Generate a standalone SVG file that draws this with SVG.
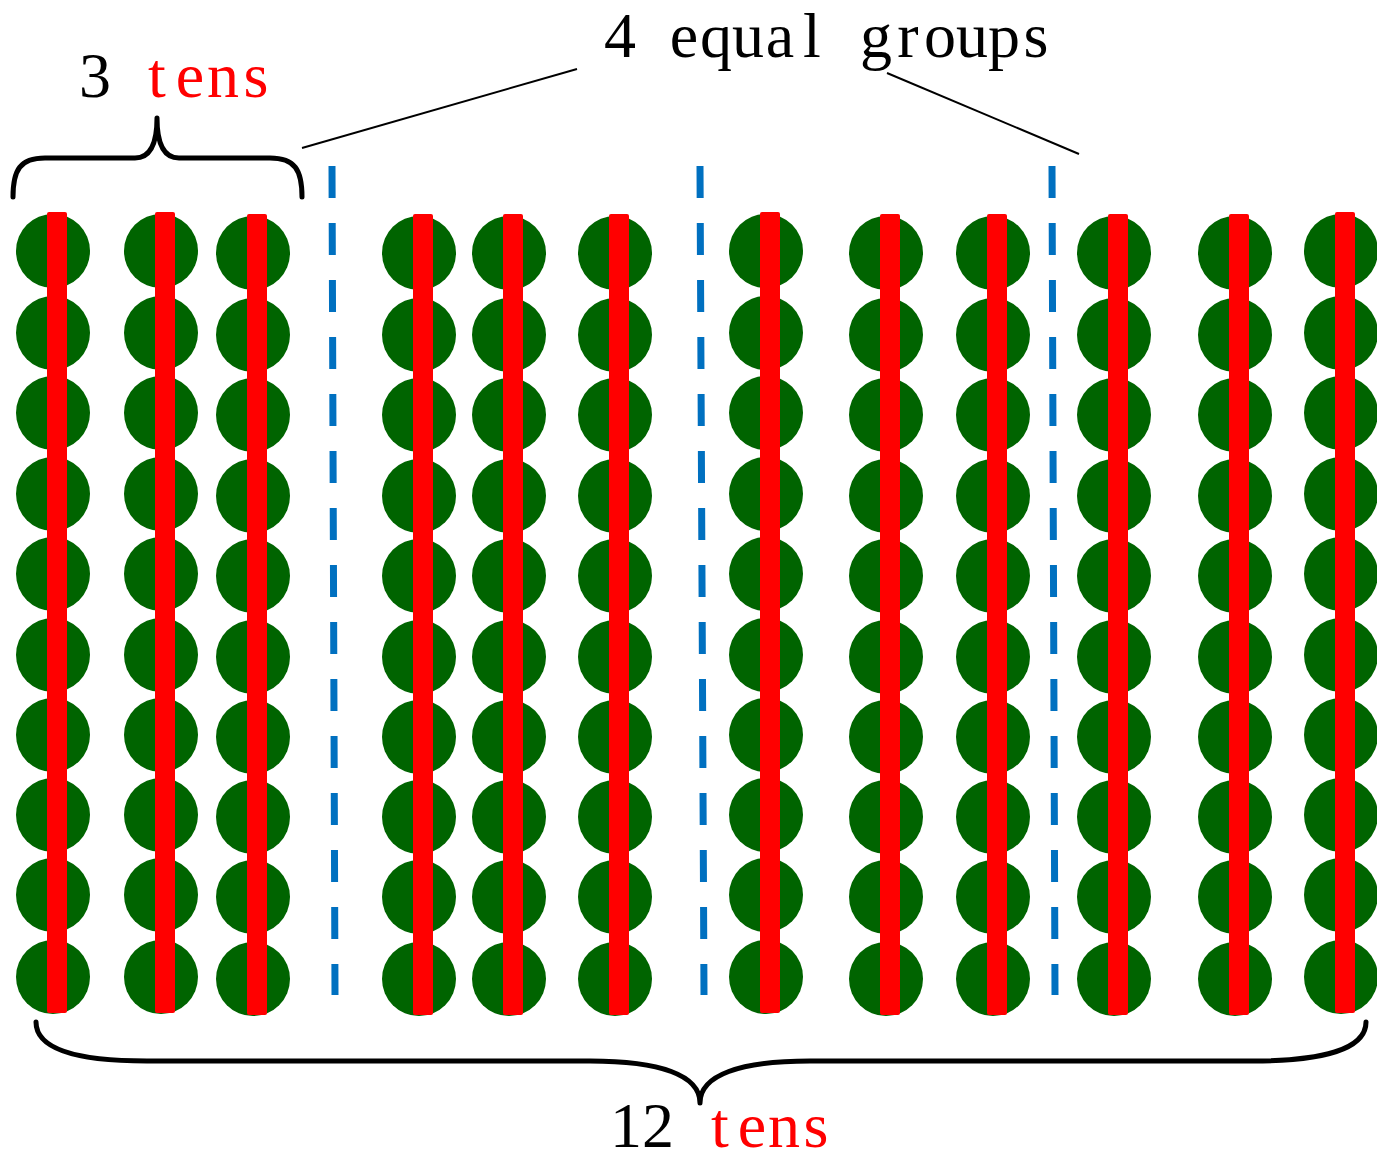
<svg xmlns="http://www.w3.org/2000/svg" xmlns:xlink="http://www.w3.org/1999/xlink" width="1377" height="1161" viewBox="0 0 1377 1161">
<style>
.lbl{font-family:"Liberation Serif","Times New Roman",serif;font-size:64px;fill:#000;text-anchor:middle}
.red{fill:#FF0000}
.dot{fill:#006400}
.bar{fill:#FF0000}
.brace{fill:none;stroke:#000;stroke-width:5;stroke-linecap:round;stroke-linejoin:round}
.lead{fill:none;stroke:#000;stroke-width:2}
.div{fill:none;stroke:#0070C0;stroke-width:7;stroke-dasharray:32 25}
</style>
<defs>
<g id="rod">
<circle class="dot" cx="-4" cy="251" r="37"/>
<circle class="dot" cx="-4" cy="333" r="37"/>
<circle class="dot" cx="-4" cy="413" r="37"/>
<circle class="dot" cx="-4" cy="494" r="37"/>
<circle class="dot" cx="-4" cy="574" r="37"/>
<circle class="dot" cx="-4" cy="655" r="37"/>
<circle class="dot" cx="-4" cy="735" r="37"/>
<circle class="dot" cx="-4" cy="815" r="37"/>
<circle class="dot" cx="-4" cy="895" r="37"/>
<circle class="dot" cx="-4" cy="977" r="37"/>
<rect class="bar" x="-10" y="212" width="20" height="801" rx="2"/>
</g>
</defs>
<rect width="1377" height="1161" fill="#fff"/>
<g id="connectors">
<line class="div" x1="332" y1="166" x2="335" y2="995"/>
<line class="div" x1="700" y1="166" x2="704" y2="995"/>
<line class="div" x1="1052" y1="166" x2="1055" y2="995"/>
<line class="lead" x1="302" y1="148" x2="577" y2="69"/>
<line class="lead" x1="887" y1="73" x2="1079" y2="154"/>
</g>
<g id="ten-1" transform="translate(57,0)"><use href="#rod"/></g>
<g id="ten-2" transform="translate(165,0)"><use href="#rod"/></g>
<g id="ten-3" transform="translate(257,2)"><use href="#rod"/></g>
<g id="ten-4" transform="translate(423,2)"><use href="#rod"/></g>
<g id="ten-5" transform="translate(513,2)"><use href="#rod"/></g>
<g id="ten-6" transform="translate(619,2)"><use href="#rod"/></g>
<g id="ten-7" transform="translate(770,0)"><use href="#rod"/></g>
<g id="ten-8" transform="translate(890,2)"><use href="#rod"/></g>
<g id="ten-9" transform="translate(997,2)"><use href="#rod"/></g>
<g id="ten-10" transform="translate(1118,2)"><use href="#rod"/></g>
<g id="ten-11" transform="translate(1239,2)"><use href="#rod"/></g>
<g id="ten-12" transform="translate(1345,0)"><use href="#rod"/></g>
<g id="brace-top">
<path class="brace" d="M13,197 C13,170 20,158 45,158 L135,158 C150,158 157,145 157,118 C157,145 164,158 179,158 L270,158 C295,158 302,170 302,197"/>
</g>
<g id="brace-bottom">
<path class="brace" d="M36,1022 C36,1050 80,1061 147,1061 L590,1061 C660,1061 700,1075 700,1103 C700,1075 740,1061 810,1061 L1253,1061 C1320,1061 1366,1050 1366,1022"/>
</g>
<g id="label-3tens">
<text class="lbl" x="95" y="97">3<tspan class="red" x="157 190 223 256">tens</tspan></text>
</g>
<g id="label-4groups">
<text class="lbl" x="620 652 684 716 748 780 812 844 876 908 940 972 1004 1036" y="57">4 equal groups</text>
</g>
<g id="label-12tens">
<text class="lbl" x="626 658" y="1147">12<tspan class="red" x="720 752 784 816">tens</tspan></text>
</g>
</svg>
